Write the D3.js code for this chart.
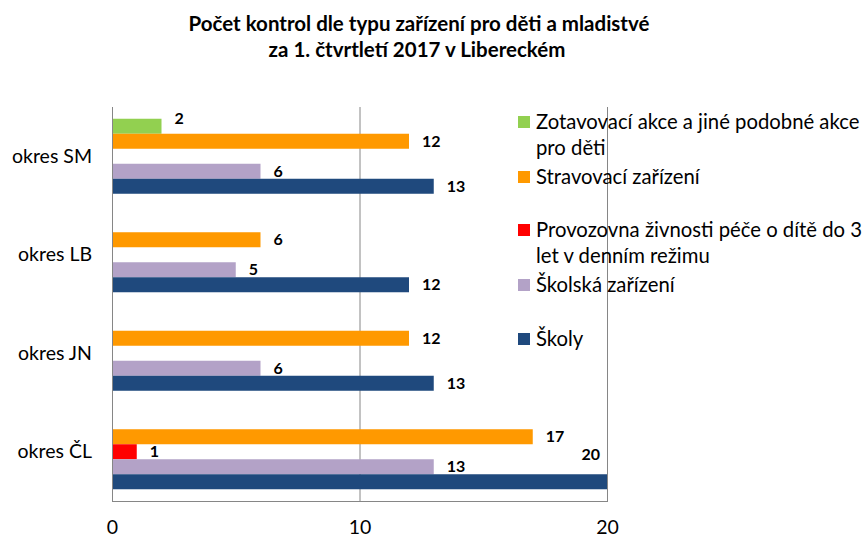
<!DOCTYPE html>
<html>
<head>
<meta charset="utf-8">
<script src="https://cdn.jsdelivr.net/npm/d3@7"></script>
<style>
  body { margin: 0; background: #fff; }
  svg { font-family: Lato, "Open Sans", sans-serif; }
</style>
</head>
<body>
<svg id="svg" width="865" height="537"></svg>
<script>
var categories = ['okres SM', 'okres LB', 'okres JN', 'okres ČL'];
var seriesNames = [
    'Zotavovací akce a jiné podobné akce pro děti',
    'Stravovací zařízení',
    'Provozovna živnosti péče o dítě do 3 let v denním režimu',
    'Školská zařízení',
    'Školy'
];
var zotavovaci = [2, 0, 0, 0];
var stravovaci = [12, 6, 12, 17];
var provozovna = [0, 0, 0, 1];
var skolska = [6, 5, 6, 13];
var skoly = [13, 12, 13, 20];
var xTicks = [0, 10, 20];

var colors = ['#92D050', '#FF9900', '#FF0000', '#B3A2C7', '#1F497D'];
var legendLines = [
    ['Zotavovací akce a jiné podobné akce', 'pro děti'],
    ['Stravovací zařízení'],
    ['Provozovna živnosti péče o dítě do 3', 'let v denním režimu'],
    ['Školská zařízení'],
    ['Školy']
];

var values = [zotavovaci, stravovaci, provozovna, skolska, skoly];
var rows = [];
categories.forEach(function (c, i) {
    seriesNames.forEach(function (s, j) {
        rows.push({ cat: c, ser: s, idx: j, val: values[j][i] });
    });
});

var svg = d3.select('#svg');

// title
var title = svg.append('text')
    .attr('x', 419).attr('y', 31)
    .attr('text-anchor', 'middle')
    .attr('font-weight', 'bold')
    .attr('font-size', 20.5)
    .attr('fill', '#000');
title.append('tspan').attr('x', 419).text('Počet kontrol dle typu zařízení pro děti a mladistvé');
title.append('tspan').attr('x', 417).attr('dy', 26).text('za 1. čtvrtletí 2017 v Libereckém');

var scX = d3.scaleLinear().domain([0, 20]).range([112, 607]);
var scY = d3.scaleBand().domain(categories).range([107, 501]);
var scS = d3.scaleBand().domain(seriesNames).range([0, scY.bandwidth()]).paddingOuter(0.783);

// gridlines
svg.append('g').selectAll('line').data([10, 20]).enter().append('line')
    .attr('x1', d => scX(d) + 0.5).attr('x2', d => scX(d) + 0.5)
    .attr('y1', 107).attr('y2', 501)
    .attr('stroke', '#868686').attr('stroke-width', 1);

// bars
svg.append('g').selectAll('rect')
    .data(rows.filter(d => d.val > 0))
    .enter().append('rect')
    .attr('x', scX(0))
    .attr('y', d => scY(d.cat) + scS(d.ser))
    .attr('width', d => scX(d.val) - scX(0))
    .attr('height', scS.bandwidth())
    .attr('fill', d => colors[d.idx]);

// axes lines
svg.append('line')
    .attr('x1', scX(0) + 0.5).attr('x2', scX(0) + 0.5)
    .attr('y1', 107).attr('y2', 501.5)
    .attr('stroke', '#868686');
svg.append('line')
    .attr('x1', scX(0)).attr('x2', scX(20) + 1)
    .attr('y1', 501.5).attr('y2', 501.5)
    .attr('stroke', '#868686');

// data labels
svg.append('g').selectAll('text')
    .data(rows.filter(d => d.val > 0))
    .enter().append('text')
    .attr('x', d => d.val === 20 ? scX(d.val) - 7 : scX(d.val) + 13)
    .attr('y', d => {
        var cy = scY(d.cat) + scS(d.ser) + scS.bandwidth() / 2;
        if (d.val === 20) return cy - 27;
        if (d.idx === 0) return cy - 8;
        return cy;
    })
    .attr('dy', '0.35em')
    .attr('text-anchor', d => d.val === 20 ? 'end' : 'start')
    .attr('font-weight', 'bold')
    .attr('font-size', 16)
    .attr('fill', '#000')
    .text(d => d.val);

// category axis
var yAxis = svg.append('g')
    .attr('transform', 'translate(' + scX(0) + ',0)')
    .call(d3.axisLeft(scY).tickSize(0).tickPadding(20));
yAxis.select('.domain').remove();
yAxis.selectAll('text').attr('font-size', 19.5).attr('font-family', 'Lato, sans-serif').attr('fill', '#000');

// value axis
var xAxis = svg.append('g')
    .attr('transform', 'translate(0,520)')
    .call(d3.axisBottom(scX).tickValues(xTicks).tickSize(0).tickPadding(0));
xAxis.select('.domain').remove();
xAxis.selectAll('text').attr('font-size', 19.5).attr('font-family', 'Lato, sans-serif').attr('fill', '#000');

// legend
var legendY = [122, 177, 230, 285, 339];
var lg = svg.append('g').selectAll('g').data(legendLines).enter().append('g')
    .attr('transform', (d, i) => 'translate(518,' + legendY[i] + ')');
lg.append('rect')
    .attr('x', 0).attr('y', -6).attr('width', 12).attr('height', 12)
    .attr('fill', (d, i) => colors[i]);
lg.each(function (lines) {
    var t = d3.select(this).append('text')
        .attr('x', 18).attr('y', 0)
        .attr('font-size', 20.3)
        .attr('fill', '#000');
    lines.forEach(function (l, k) {
        t.append('tspan').attr('x', 18).attr('dy', k === 0 ? '0.35em' : 26).text(l);
    });
});
</script>
</body>
</html>
